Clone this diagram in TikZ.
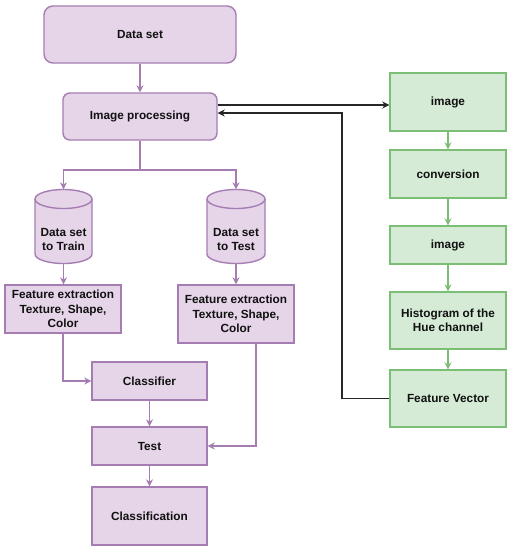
\documentclass[tikz,border=0pt]{standalone}
\usepackage{fontspec}
\setmainfont{Liberation Sans}
\usetikzlibrary{arrows.meta}
\definecolor{pfill}{HTML}{E6D5E9}
\definecolor{pdraw}{HTML}{A67DB3}
\definecolor{gfill}{HTML}{D5EBD6}
\definecolor{gdraw}{HTML}{7DBE76}
\definecolor{tcol}{HTML}{111111}
\begin{document}
\begin{tikzpicture}[x=1pt,y=-1pt,
  font=\bfseries\fontsize{11.8}{14.5}\selectfont, text=tcol,
  pbox/.style={draw=pdraw, fill=pfill, line width=1.4pt, align=center, inner sep=0pt},
  gbox/.style={draw=gdraw, fill=gfill, line width=1.4pt, align=center, inner sep=0pt, minimum width=116pt},
  pline/.style={draw=pdraw, line width=1.4pt},
  parrow/.style={pline, -{Stealth[length=7pt,width=7pt]}},
  garrow/.style={draw=gdraw, line width=1.4pt, -{Stealth[length=7pt,width=7pt]}},
  karrow/.style={draw=black!85, line width=1.3pt, -{Stealth[length=7pt,width=7pt]}},
  cylbody/.style={draw=pdraw, fill=pfill, line width=1.4pt},
  cyltext/.style={align=center, inner sep=0pt}]
\useasboundingbox[fill=white] (0,0) rectangle (512,550);

% purple boxes
\node[pbox, rounded corners=9pt, minimum width=192pt, minimum height=57pt] (ds) at (140,34.5) {Data set};
\node[pbox, rounded corners=7pt, minimum width=154pt, minimum height=47pt] (ip) at (140,116.5) {Image processing};

% cylinders
\fill[pfill] (35,199) -- (35,254) arc[start angle=180,end angle=0,x radius=28.5,y radius=9.5] -- (92,199) arc[start angle=0,end angle=-180,x radius=28.5,y radius=9.5] -- cycle;
\draw[cylbody] (35,199) -- (35,254) arc[start angle=180,end angle=0,x radius=28.5,y radius=9.5] -- (92,199);
\draw[cylbody] (63.5,199) ellipse[x radius=28.5,y radius=9.5];
\node[minimum width=57pt, minimum height=74pt, inner sep=0pt,
  label={[cyltext, yshift=-13pt]center:Data set\\to Train}] (ct) at (63.5,226.5) {};

\fill[pfill] (207,199) -- (207,254) arc[start angle=180,end angle=0,x radius=29,y radius=9.5] -- (265,199) arc[start angle=0,end angle=-180,x radius=29,y radius=9.5] -- cycle;
\draw[cylbody] (207,199) -- (207,254) arc[start angle=180,end angle=0,x radius=29,y radius=9.5] -- (265,199);
\draw[cylbody] (236,199) ellipse[x radius=29,y radius=9.5];
\node[minimum width=58pt, minimum height=74pt, inner sep=0pt,
  label={[cyltext, yshift=-13pt]center:Data set\\to Test}] (cs) at (236,226.5) {};

\node[pbox, minimum width=116pt, minimum height=48pt] (ft) at (63,309) {Feature extraction\\Texture, Shape,\\Color};
\node[pbox, minimum width=116pt, minimum height=58pt] (fs) at (236,314) {Feature extraction\\Texture, Shape,\\Color};
\node[pbox, minimum width=115pt, minimum height=38pt] (cl) at (149.5,381) {Classifier};
\node[pbox, minimum width=115pt, minimum height=38pt] (te) at (149.5,446) {Test};
\node[pbox, minimum width=115pt, minimum height=58pt] (cf) at (149.5,516) {Classification};

% green boxes
\node[gbox, minimum height=58pt] (g1) at (448,102) {image};
\node[gbox, minimum height=48pt] (g2) at (448,174) {conversion};
\node[gbox, minimum height=38pt] (g3) at (448,245) {image};
\node[gbox, minimum height=57pt] (g4) at (448,320.5) {Histogram of the\\Hue channel};
\node[gbox, minimum height=57pt] (g5) at (448,398.5) {Feature Vector};

% purple connectors
\draw[parrow] (ds) -- (ip);
\coordinate (split) at (140,170);
\draw[pline] (ip.south) -- (split);
\draw[parrow] (split) -| (ct.north);
\draw[parrow] (split) -| (cs.north);
\draw[parrow] (ct.south) -- (ct.south |- ft.north);
\draw[parrow] (cs.south) -- (fs.north);
\draw[parrow] (ft.south) |- (cl.west);
\draw[parrow] (cl) -- (te);
\draw[parrow] (te) -- (cf);
\draw[parrow] ([xshift=20pt]fs.south) |- (te.east);

% green connectors
\draw[garrow] (g1) -- (g2);
\draw[garrow] (g2) -- (g3);
\draw[garrow] (g3) -- (g4);
\draw[garrow] (g4) -- (g5);

% black connectors
\draw[karrow] ([yshift=11.5pt]ip.east) -- ([yshift=11.5pt]ip.east -| g1.west);
\coordinate (r1) at (342,113);
\draw[karrow] (g5.west) -| (r1) -- (r1 -| ip.east);
\end{tikzpicture}
\end{document}
